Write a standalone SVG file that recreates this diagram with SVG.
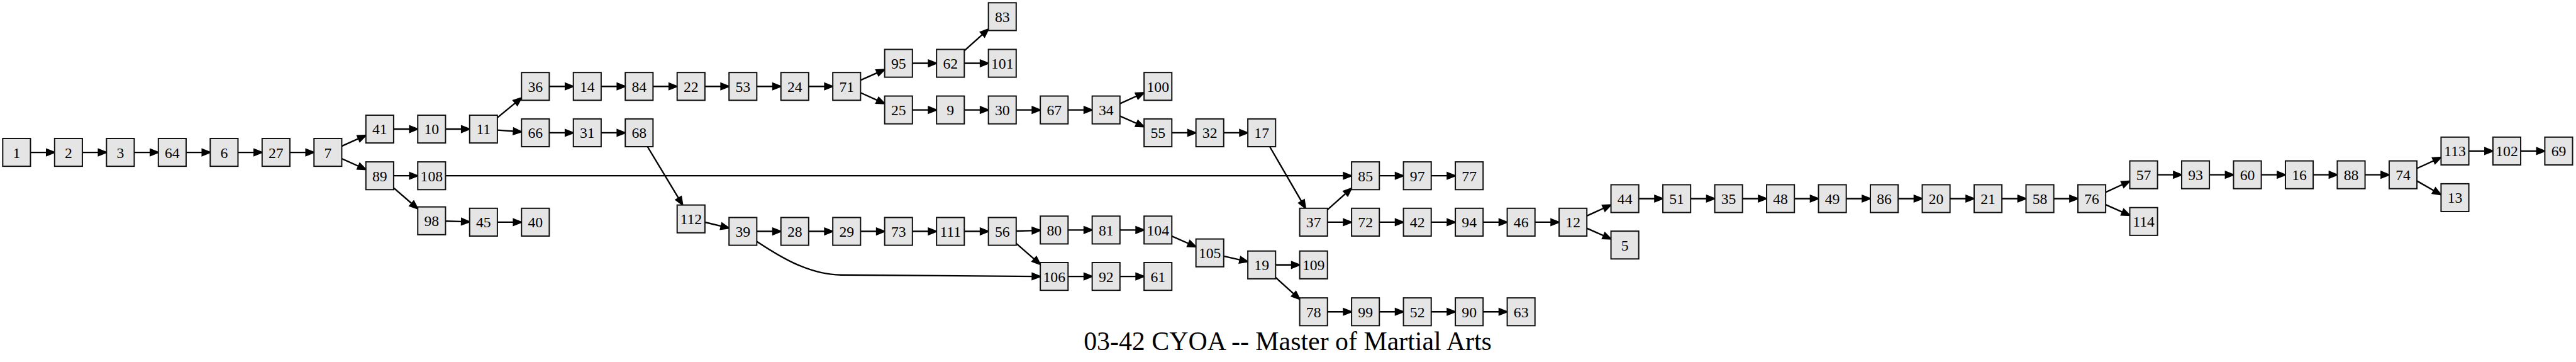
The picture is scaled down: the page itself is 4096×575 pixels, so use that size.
<svg xmlns="http://www.w3.org/2000/svg" xmlns:xlink="http://www.w3.org/1999/xlink" width="4096" height="575" viewBox="0 0 4096 575">
<style>
.n use{fill:#e5e5e5;stroke:#111;stroke-width:2.2}
.n text{font-family:"Liberation Serif","Times New Roman",serif;font-size:26px;text-anchor:middle;fill:#000}
#edges path{fill:none;stroke:#000;stroke-width:2.6;marker-end:url(#a)}
.title{font-family:"Liberation Serif","Times New Roman",serif;font-size:46px;text-anchor:middle;fill:#000}
</style>
<defs>
<rect id="b" x="-24.25" y="-24.25" width="48.5" height="48.5"/>
<marker id="a" markerUnits="userSpaceOnUse" markerWidth="20" markerHeight="14" refX="8" refY="5.5" orient="auto" overflow="visible">
<path d="M0,0 L14,5.5 L0,11 Z" fill="#000" stroke="#000" stroke-width="2.4"/>
</marker>
</defs>
<rect width="4096" height="575" fill="#fff"/>
<g transform="scale(0.91)">
<g id="edges">
<path d="M53.25,266H89.4"/>
<path d="M143.9,266H180.05"/>
<path d="M234.55,266H270.7"/>
<path d="M325.2,266H361.35"/>
<path d="M415.85,266H452"/>
<path d="M506.5,266H542.65"/>
<path d="M597.15,255.11L633.83,238.65"/>
<path d="M597.15,276.91L633.83,293.43"/>
<path d="M687.8,225.3H723.95"/>
<path d="M778.45,225.3H814.6"/>
<path d="M687.8,306.8H723.95"/>
<path d="M778.45,306.8H2355.65"/>
<path d="M687.8,327.83L725.42,360.44"/>
<path d="M778.45,386.04L814.6,387"/>
<path d="M869.1,387.8H905.25"/>
<path d="M869.1,205.37L906.61,174.54"/>
<path d="M869.1,227.04L905.27,229.63"/>
<path d="M959.75,150.8H995.9"/>
<path d="M1050.4,150.8H1086.55"/>
<path d="M1141.05,150.8H1177.2"/>
<path d="M1231.7,150.8H1267.85"/>
<path d="M1322.35,150.8H1358.5"/>
<path d="M1413,150.8H1449.15"/>
<path d="M959.75,231.8H995.9"/>
<path d="M1050.4,231.8H1086.55"/>
<path d="M1131.43,256.05L1189.72,352.71"/>
<path d="M1231.7,387.93L1268.02,396.67"/>
<path d="M1322.35,403.9H1358.5"/>
<path d="M1413,403.9H1449.15"/>
<path d="M1503.65,403.9H1539.8"/>
<path d="M1594.3,403.9H1630.45"/>
<path d="M1684.95,403.9H1721.1"/>
<path d="M1322.35,421.5C1355,443 1410,479.5 1470,480L1811.75,482.5"/>
<path d="M1503.65,140.02L1540.32,123.72"/>
<path d="M1503.65,161.79L1540.34,178.43"/>
<path d="M1594.3,110.5H1630.45"/>
<path d="M1684.95,110.5H1721.1"/>
<path d="M1684.95,88.7L1722.64,54.81"/>
<path d="M1594.3,191.9H1630.45"/>
<path d="M1684.95,191.9H1721.1"/>
<path d="M1775.6,191.9H1811.75"/>
<path d="M1866.25,191.9H1902.4"/>
<path d="M1956.9,180.91L1993.59,164.27"/>
<path d="M1956.9,202.57L1993.56,218.71"/>
<path d="M2047.55,231.8H2083.7"/>
<path d="M2138.2,231.8H2174.35"/>
<path d="M2218.69,256.05L2278.15,358.36"/>
<path d="M1775.6,403.26L1811.75,402.3"/>
<path d="M1775.6,424.93L1813.22,457.54"/>
<path d="M1866.25,401.5H1902.4"/>
<path d="M1956.9,401.5H1993.05"/>
<path d="M1866.25,482.5H1902.4"/>
<path d="M1956.9,482.5H1993.05"/>
<path d="M2047.55,412.17L2084.21,428.31"/>
<path d="M2138.2,447.02L2174.5,455.43"/>
<path d="M2228.85,462.4H2265"/>
<path d="M2228.85,484.28L2266.55,518.3"/>
<path d="M2319.5,366.13L2357.18,332.47"/>
<path d="M2319.5,387.8H2355.65"/>
<path d="M2410.15,306.8H2446.3"/>
<path d="M2500.8,306.8H2536.95"/>
<path d="M2410.15,387.8H2446.3"/>
<path d="M2500.8,387.8H2536.95"/>
<path d="M2591.45,387.8H2627.6"/>
<path d="M2682.1,387.8H2718.25"/>
<path d="M2319.5,544.2H2355.65"/>
<path d="M2410.15,544.2H2446.3"/>
<path d="M2500.8,544.2H2536.95"/>
<path d="M2591.45,544.2H2627.6"/>
<path d="M2772.75,376.81L2809.44,360.17"/>
<path d="M2772.75,398.47L2809.41,414.61"/>
<path d="M2863.4,346.7H2899.55"/>
<path d="M2954.05,346.7H2990.2"/>
<path d="M3044.7,346.7H3080.85"/>
<path d="M3135.35,346.7H3171.5"/>
<path d="M3226,346.7H3262.15"/>
<path d="M3316.65,346.7H3352.8"/>
<path d="M3407.3,346.7H3443.45"/>
<path d="M3497.95,346.7H3534.1"/>
<path d="M3588.6,346.7H3624.75"/>
<path d="M3679.25,335.57L3715.95,318.73"/>
<path d="M3679.25,357.37L3715.91,373.51"/>
<path d="M3769.9,305.1H3806.05"/>
<path d="M3860.55,305.1H3896.7"/>
<path d="M3951.2,305.1H3987.35"/>
<path d="M4041.85,305.1H4078"/>
<path d="M4132.5,305.1H4168.65"/>
<path d="M4223.15,294L4259.85,277.2"/>
<path d="M4223.15,315.77L4259.81,336.75"/>
<path d="M4313.8,263.6H4349.95"/>
<path d="M4404.45,263.6H4440.6"/>
</g>
<g id="n1" class="n" transform="translate(29,266)"><use href="#b"/><text y="9.3">1</text></g>
<g id="n2" class="n" transform="translate(119.65,266)"><use href="#b"/><text y="9.3">2</text></g>
<g id="n3" class="n" transform="translate(210.3,266)"><use href="#b"/><text y="9.3">3</text></g>
<g id="n64" class="n" transform="translate(300.95,266)"><use href="#b"/><text y="9.3">64</text></g>
<g id="n6" class="n" transform="translate(391.6,266)"><use href="#b"/><text y="9.3">6</text></g>
<g id="n27" class="n" transform="translate(482.25,266)"><use href="#b"/><text y="9.3">27</text></g>
<g id="n7" class="n" transform="translate(572.9,266)"><use href="#b"/><text y="9.3">7</text></g>
<g id="n41" class="n" transform="translate(663.55,225.3)"><use href="#b"/><text y="9.3">41</text></g>
<g id="n89" class="n" transform="translate(663.55,306.8)"><use href="#b"/><text y="9.3">89</text></g>
<g id="n10" class="n" transform="translate(754.2,225.3)"><use href="#b"/><text y="9.3">10</text></g>
<g id="n108" class="n" transform="translate(754.2,306.8)"><use href="#b"/><text y="9.3">108</text></g>
<g id="n98" class="n" transform="translate(754.2,385.4)"><use href="#b"/><text y="9.3">98</text></g>
<g id="n11" class="n" transform="translate(844.85,225.3)"><use href="#b"/><text y="9.3">11</text></g>
<g id="n45" class="n" transform="translate(844.85,387.8)"><use href="#b"/><text y="9.3">45</text></g>
<g id="n36" class="n" transform="translate(935.5,150.8)"><use href="#b"/><text y="9.3">36</text></g>
<g id="n66" class="n" transform="translate(935.5,231.8)"><use href="#b"/><text y="9.3">66</text></g>
<g id="n40" class="n" transform="translate(935.5,387.8)"><use href="#b"/><text y="9.3">40</text></g>
<g id="n14" class="n" transform="translate(1026.15,150.8)"><use href="#b"/><text y="9.3">14</text></g>
<g id="n31" class="n" transform="translate(1026.15,231.8)"><use href="#b"/><text y="9.3">31</text></g>
<g id="n84" class="n" transform="translate(1116.8,150.8)"><use href="#b"/><text y="9.3">84</text></g>
<g id="n68" class="n" transform="translate(1116.8,231.8)"><use href="#b"/><text y="9.3">68</text></g>
<g id="n22" class="n" transform="translate(1207.45,150.8)"><use href="#b"/><text y="9.3">22</text></g>
<g id="n112" class="n" transform="translate(1207.45,382.1)"><use href="#b"/><text y="9.3">112</text></g>
<g id="n53" class="n" transform="translate(1298.1,150.8)"><use href="#b"/><text y="9.3">53</text></g>
<g id="n39" class="n" transform="translate(1298.1,403.9)"><use href="#b"/><text y="9.3">39</text></g>
<g id="n24" class="n" transform="translate(1388.75,150.8)"><use href="#b"/><text y="9.3">24</text></g>
<g id="n28" class="n" transform="translate(1388.75,403.9)"><use href="#b"/><text y="9.3">28</text></g>
<g id="n71" class="n" transform="translate(1479.4,150.8)"><use href="#b"/><text y="9.3">71</text></g>
<g id="n29" class="n" transform="translate(1479.4,403.9)"><use href="#b"/><text y="9.3">29</text></g>
<g id="n95" class="n" transform="translate(1570.05,110.5)"><use href="#b"/><text y="9.3">95</text></g>
<g id="n25" class="n" transform="translate(1570.05,191.9)"><use href="#b"/><text y="9.3">25</text></g>
<g id="n73" class="n" transform="translate(1570.05,403.9)"><use href="#b"/><text y="9.3">73</text></g>
<g id="n62" class="n" transform="translate(1660.7,110.5)"><use href="#b"/><text y="9.3">62</text></g>
<g id="n9" class="n" transform="translate(1660.7,191.9)"><use href="#b"/><text y="9.3">9</text></g>
<g id="n111" class="n" transform="translate(1660.7,403.9)"><use href="#b"/><text y="9.3">111</text></g>
<g id="n83" class="n" transform="translate(1751.35,29)"><use href="#b"/><text y="9.3">83</text></g>
<g id="n101" class="n" transform="translate(1751.35,110.5)"><use href="#b"/><text y="9.3">101</text></g>
<g id="n30" class="n" transform="translate(1751.35,191.9)"><use href="#b"/><text y="9.3">30</text></g>
<g id="n56" class="n" transform="translate(1751.35,403.9)"><use href="#b"/><text y="9.3">56</text></g>
<g id="n67" class="n" transform="translate(1842,191.9)"><use href="#b"/><text y="9.3">67</text></g>
<g id="n80" class="n" transform="translate(1842,401.5)"><use href="#b"/><text y="9.3">80</text></g>
<g id="n106" class="n" transform="translate(1842,482.5)"><use href="#b"/><text y="9.3">106</text></g>
<g id="n34" class="n" transform="translate(1932.65,191.9)"><use href="#b"/><text y="9.3">34</text></g>
<g id="n81" class="n" transform="translate(1932.65,401.5)"><use href="#b"/><text y="9.3">81</text></g>
<g id="n92" class="n" transform="translate(1932.65,482.5)"><use href="#b"/><text y="9.3">92</text></g>
<g id="n100" class="n" transform="translate(2023.3,150.8)"><use href="#b"/><text y="9.3">100</text></g>
<g id="n55" class="n" transform="translate(2023.3,231.8)"><use href="#b"/><text y="9.3">55</text></g>
<g id="n104" class="n" transform="translate(2023.3,401.5)"><use href="#b"/><text y="9.3">104</text></g>
<g id="n61" class="n" transform="translate(2023.3,482.5)"><use href="#b"/><text y="9.3">61</text></g>
<g id="n32" class="n" transform="translate(2113.95,231.8)"><use href="#b"/><text y="9.3">32</text></g>
<g id="n105" class="n" transform="translate(2113.95,441.4)"><use href="#b"/><text y="9.3">105</text></g>
<g id="n17" class="n" transform="translate(2204.6,231.8)"><use href="#b"/><text y="9.3">17</text></g>
<g id="n19" class="n" transform="translate(2204.6,462.4)"><use href="#b"/><text y="9.3">19</text></g>
<g id="n37" class="n" transform="translate(2295.25,387.8)"><use href="#b"/><text y="9.3">37</text></g>
<g id="n109" class="n" transform="translate(2295.25,462.4)"><use href="#b"/><text y="9.3">109</text></g>
<g id="n78" class="n" transform="translate(2295.25,544.2)"><use href="#b"/><text y="9.3">78</text></g>
<g id="n85" class="n" transform="translate(2385.9,306.8)"><use href="#b"/><text y="9.3">85</text></g>
<g id="n72" class="n" transform="translate(2385.9,387.8)"><use href="#b"/><text y="9.3">72</text></g>
<g id="n99" class="n" transform="translate(2385.9,544.2)"><use href="#b"/><text y="9.3">99</text></g>
<g id="n97" class="n" transform="translate(2476.55,306.8)"><use href="#b"/><text y="9.3">97</text></g>
<g id="n42" class="n" transform="translate(2476.55,387.8)"><use href="#b"/><text y="9.3">42</text></g>
<g id="n52" class="n" transform="translate(2476.55,544.2)"><use href="#b"/><text y="9.3">52</text></g>
<g id="n77" class="n" transform="translate(2567.2,306.8)"><use href="#b"/><text y="9.3">77</text></g>
<g id="n94" class="n" transform="translate(2567.2,387.8)"><use href="#b"/><text y="9.3">94</text></g>
<g id="n90" class="n" transform="translate(2567.2,544.2)"><use href="#b"/><text y="9.3">90</text></g>
<g id="n46" class="n" transform="translate(2657.85,387.8)"><use href="#b"/><text y="9.3">46</text></g>
<g id="n63" class="n" transform="translate(2657.85,544.2)"><use href="#b"/><text y="9.3">63</text></g>
<g id="n12" class="n" transform="translate(2748.5,387.8)"><use href="#b"/><text y="9.3">12</text></g>
<g id="n44" class="n" transform="translate(2839.15,346.7)"><use href="#b"/><text y="9.3">44</text></g>
<g id="n5" class="n" transform="translate(2839.15,427.7)"><use href="#b"/><text y="9.3">5</text></g>
<g id="n51" class="n" transform="translate(2929.8,346.7)"><use href="#b"/><text y="9.3">51</text></g>
<g id="n35" class="n" transform="translate(3020.45,346.7)"><use href="#b"/><text y="9.3">35</text></g>
<g id="n48" class="n" transform="translate(3111.1,346.7)"><use href="#b"/><text y="9.3">48</text></g>
<g id="n49" class="n" transform="translate(3201.75,346.7)"><use href="#b"/><text y="9.3">49</text></g>
<g id="n86" class="n" transform="translate(3292.4,346.7)"><use href="#b"/><text y="9.3">86</text></g>
<g id="n20" class="n" transform="translate(3383.05,346.7)"><use href="#b"/><text y="9.3">20</text></g>
<g id="n21" class="n" transform="translate(3473.7,346.7)"><use href="#b"/><text y="9.3">21</text></g>
<g id="n58" class="n" transform="translate(3564.35,346.7)"><use href="#b"/><text y="9.3">58</text></g>
<g id="n76" class="n" transform="translate(3655,346.7)"><use href="#b"/><text y="9.3">76</text></g>
<g id="n57" class="n" transform="translate(3745.65,305.1)"><use href="#b"/><text y="9.3">57</text></g>
<g id="n114" class="n" transform="translate(3745.65,386.6)"><use href="#b"/><text y="9.3">114</text></g>
<g id="n93" class="n" transform="translate(3836.3,305.1)"><use href="#b"/><text y="9.3">93</text></g>
<g id="n60" class="n" transform="translate(3926.95,305.1)"><use href="#b"/><text y="9.3">60</text></g>
<g id="n16" class="n" transform="translate(4017.6,305.1)"><use href="#b"/><text y="9.3">16</text></g>
<g id="n88" class="n" transform="translate(4108.25,305.1)"><use href="#b"/><text y="9.3">88</text></g>
<g id="n74" class="n" transform="translate(4198.9,305.1)"><use href="#b"/><text y="9.3">74</text></g>
<g id="n113" class="n" transform="translate(4289.55,263.6)"><use href="#b"/><text y="9.3">113</text></g>
<g id="n13" class="n" transform="translate(4289.55,345)"><use href="#b"/><text y="9.3">13</text></g>
<g id="n102" class="n" transform="translate(4380.2,263.6)"><use href="#b"/><text y="9.3">102</text></g>
<g id="n69" class="n" transform="translate(4470.85,263.6)"><use href="#b"/><text y="9.3">69</text></g>
<text id="title" class="title" x="2250" y="611">03-42 CYOA -- Master of Martial Arts</text>
</g>
</svg>
